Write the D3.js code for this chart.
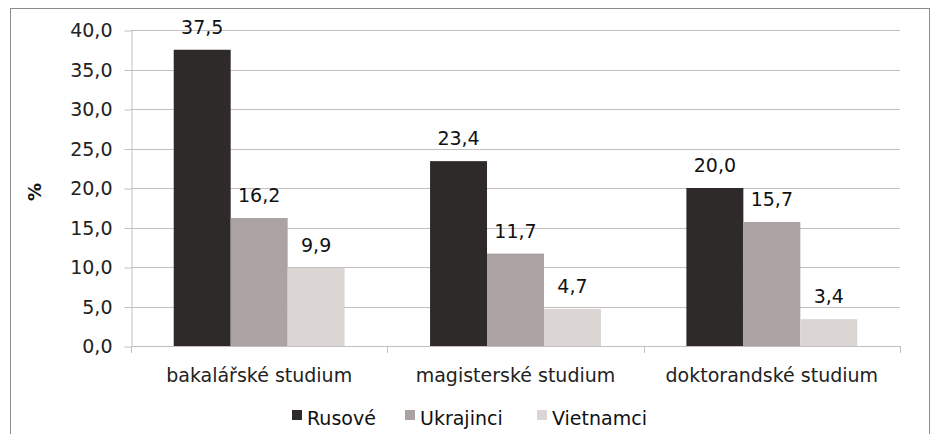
<!DOCTYPE html>
<html>
<head>
<meta charset="utf-8">
<script src="https://cdn.jsdelivr.net/npm/d3@7"></script>
<style>
  body { margin: 0; background: #fff; }
  svg { display: block; font-family: Verdana, "DejaVu Sans", sans-serif; }
</style>
</head>
<body>
<svg id="chart" width="933" height="434"></svg>
<script>
// Studijní úroveň a podíl cizinců (%)
const categories = ["bakalářské studium", "magisterské studium", "doktorandské studium"];
const seriesNames = ["Rusové", "Ukrajinci", "Vietnamci"];
const rusove = [37.5, 23.4, 20.0];
const ukrajinci = [16.2, 11.7, 15.7];
const vietnamci = [9.9, 4.7, 3.4];
const yTicks = [0, 5, 10, 15, 20, 25, 30, 35, 40];
const colors = ["#2e2a29", "#aaa3a1", "#dbd5d3"];

const seriesValues = [rusove, ukrajinci, vietnamci];
const fmt = v => v.toFixed(1).replace(".", ",");
const FONT = "Verdana, 'DejaVu Sans', sans-serif";
const FS = 19;

const svg = d3.select("#chart");
const plot = { left: 131, right: 900, top: 30, bottom: 346 };

// outer frame
svg.append("rect")
  .attr("x", 10.5).attr("y", 8.5)
  .attr("width", 919).attr("height", 440)
  .attr("fill", "#fff").attr("stroke", "#8c8c8c").attr("stroke-width", 1);

const y = d3.scaleLinear().domain([0, 40]).range([plot.bottom, plot.top]);
const x0 = d3.scaleBand().domain(categories).range([plot.left, plot.right]).paddingInner(0).paddingOuter(0);
const x1 = d3.scaleBand().domain(seriesNames).range([0, x0.bandwidth()]).paddingOuter(0.75).paddingInner(0);

// gridlines
svg.append("g")
  .selectAll("line").data(yTicks.filter(t => t > 0)).join("line")
  .attr("x1", plot.left).attr("x2", plot.right)
  .attr("y1", d => Math.round(y(d)) + 0.5).attr("y2", d => Math.round(y(d)) + 0.5)
  .attr("stroke", "#c3bfbe").attr("stroke-width", 1);

// y axis
const yAxis = d3.axisLeft(y).tickValues(yTicks).tickFormat(fmt).tickSize(7).tickSizeOuter(0);
const gy = svg.append("g").attr("transform", `translate(${plot.left + 0.5},0.5)`).call(yAxis);
gy.select(".domain").attr("stroke", "#c3bfbe");
gy.selectAll(".tick line").attr("stroke", "#c3bfbe");
gy.selectAll(".tick text").attr("font-size", FS).attr("fill", "#222").attr("x", -19)
  .attr("font-family", FONT);

// x axis
const xAxis = d3.axisBottom(x0).tickSize(0).tickSizeOuter(0);
const gx = svg.append("g").attr("transform", `translate(0,${plot.bottom + 0.5})`).call(xAxis);
gx.select(".domain").attr("stroke", "#c3bfbe").attr("d", `M${plot.left},0H${plot.right}`);
gx.selectAll(".tick text").attr("font-size", FS).attr("fill", "#222").attr("y", 35).attr("dy", 0)
  .attr("font-family", FONT);
// category separators
const seps = [plot.left, ...categories.map(c => x0(c) + x0.bandwidth())];
svg.append("g").selectAll("line").data(seps).join("line")
  .attr("x1", d => Math.round(d) + 0.5).attr("x2", d => Math.round(d) + 0.5)
  .attr("y1", plot.bottom).attr("y2", plot.bottom + 7)
  .attr("stroke", "#c3bfbe");

// bars
const groups = svg.append("g").selectAll("g").data(categories).join("g")
  .attr("transform", c => `translate(${x0(c)},0)`);
groups.selectAll("rect").data((c, i) => seriesNames.map((s, j) => ({ s, j, v: seriesValues[j][i] })))
  .join("rect")
  .attr("x", d => x1(d.s)).attr("width", x1.bandwidth())
  .attr("y", d => y(d.v)).attr("height", d => y(0) - y(d.v))
  .attr("fill", d => colors[d.j]);

// value labels
groups.selectAll("text").data((c, i) => seriesNames.map((s, j) => ({ s, j, v: seriesValues[j][i] })))
  .join("text")
  .attr("x", d => x1(d.s) + x1.bandwidth() / 2)
  .attr("y", d => y(d.v) - 16)
  .attr("text-anchor", "middle")
  .attr("font-size", FS).attr("fill", "#111")
  .text(d => fmt(d.v));

// y axis title
svg.append("text")
  .attr("transform", `translate(41,192) rotate(-90)`)
  .attr("text-anchor", "middle").attr("font-size", 18).attr("font-weight", "bold").attr("fill", "#111")
  .text("%");

// legend
const legendItems = [
  { name: seriesNames[0], x: 292 },
  { name: seriesNames[1], x: 405 },
  { name: seriesNames[2], x: 537 }
];
const lg = svg.append("g").selectAll("g").data(legendItems).join("g")
  .attr("transform", d => `translate(${d.x},0)`);
lg.append("rect").attr("x", 0).attr("y", 410).attr("width", 10).attr("height", 10)
  .attr("fill", (d, i) => colors[i]);
lg.append("text").attr("x", 15).attr("y", 425).attr("font-size", FS).attr("fill", "#111")
  .text(d => d.name);
</script>
</body>
</html>
